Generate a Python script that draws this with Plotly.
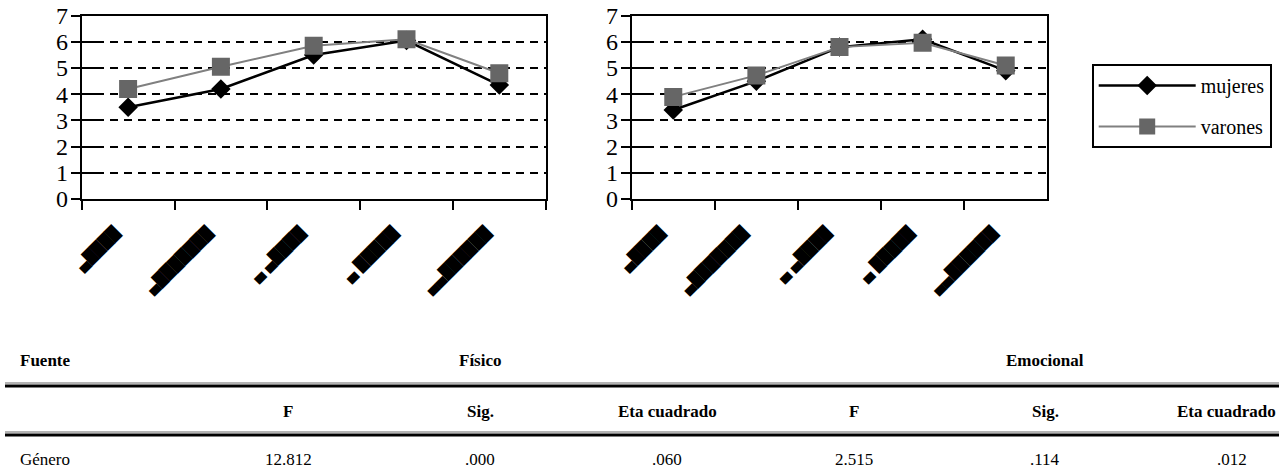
import plotly.graph_objects as go

# ---------------- data ----------------
categories = ["▄████", "▄███████", "▄ ▄████", "▄ █████", "▄▄██████"]

fisico_mujeres = [3.5, 4.2, 5.5, 6.05, 4.35]
fisico_varones = [4.2, 5.05, 5.85, 6.1, 4.8]
emocional_mujeres = [3.4, 4.5, 5.8, 6.1, 4.9]
emocional_varones = [3.9, 4.72, 5.8, 5.97, 5.1]

series_names = ["mujeres", "varones"]
y_ticks = [0, 1, 2, 3, 4, 5, 6, 7]

table_top = ["Fuente", "Físico", "Emocional"]
table_cols = ["F", "Sig.", "Eta cuadrado", "F", "Sig.", "Eta cuadrado"]
table_row_label = "Género"
table_values = ["12.812", ".000", ".060", "2.515", ".114", ".012"]

# ---------------- layout helpers ----------------
W, H = 1279, 471
def px(x):
    return x / W
def py(y):
    return 1 - y / H

SERIF = "Times New Roman, Liberation Serif, serif"
fig = go.Figure()

styles = {
    "mujeres": dict(line=dict(color="black", width=2.5),
                    marker=dict(symbol="diamond", size=15, color="black")),
    "varones": dict(line=dict(color="#808080", width=2),
                    marker=dict(symbol="square", size=18, color="#666666")),
}

# trailing spaces push the rotated labels a little left of the category centre
tick_text = [c + "\u00a0" * 4 for c in categories]

panels = [
    ("x", "y", "y3", fisico_mujeres, fisico_varones, True),
    ("x2", "y2", "y4", emocional_mujeres, emocional_varones, False),
]
for xa, ya, yov, muj, var, show in panels:
    for name, vals in zip(series_names, [muj, var]):
        fig.add_trace(go.Scatter(
            x=categories, y=vals, mode="lines+markers", name=name,
            xaxis=xa, yaxis=ya, showlegend=show, legendgroup=name,
            hoverinfo="skip", **styles[name]))
    # invisible helper trace so the overlay axis (inner tick halves) is drawn
    fig.add_trace(go.Scatter(x=[categories[0]], y=[None], xaxis=xa, yaxis=yov,
                             showlegend=False, hoverinfo="skip", mode="markers"))

xcommon = dict(type="category", categoryorder="array", categoryarray=categories,
               tickmode="array", tickvals=categories, ticktext=tick_text,
               range=[-0.5, len(categories) - 0.5], tickson="boundaries",
               ticks="outside", ticklen=9, tickwidth=2, tickcolor="black",
               showline=True, linewidth=2, linecolor="black", mirror=True,
               showgrid=False, tickangle=-45, ticklabelstandoff=5,
               automargin=False,
               tickfont=dict(family="DejaVu Sans", size=14, color="black"))
ydom = [py(199), py(15.7)]
ycommon = dict(domain=ydom, range=[0, 7], tickvals=y_ticks, ticks="outside",
               ticklen=9, tickwidth=2, tickcolor="black", showline=True,
               linewidth=2, linecolor="black", mirror=True, showgrid=True,
               gridcolor="black", gridwidth=2, griddash="8px,6px",
               zeroline=False, ticklabelstandoff=-2, automargin=False,
               ticklabeloverflow="allow",
               tickfont=dict(family=SERIF, size=24, color="black"))
yover = dict(domain=ydom, range=[0, 7], tickvals=y_ticks, ticks="inside",
             ticklen=15, tickwidth=2, tickcolor="black", showticklabels=False,
             showgrid=False, showline=False, zeroline=False, side="left",
             automargin=False)

fig.update_layout(
    width=W, height=H, margin=dict(l=0, r=0, t=0, b=0, pad=0),
    paper_bgcolor="white", plot_bgcolor="white",
    xaxis=dict(domain=[px(81.7), px(545.7)], anchor="y", **xcommon),
    xaxis2=dict(domain=[px(631.7), px(1047.3)], anchor="y2", **xcommon),
    yaxis=dict(anchor="x", **ycommon),
    yaxis2=dict(anchor="x2", **ycommon),
    yaxis3=dict(anchor="x", overlaying="y", **yover),
    yaxis4=dict(anchor="x2", overlaying="y2", **yover),
    legend=dict(x=px(1091.7), y=py(64), xanchor="left", yanchor="top",
                bordercolor="black", borderwidth=2, bgcolor="white",
                font=dict(family=SERIF, size=20, color="black"),
                itemwidth=97,
                traceorder="grouped", tracegroupgap=12),
    showlegend=True,
)

# ---------------- table (text + rules) ----------------
col_x = [288, 480, 667, 854, 1045, 1232]
row_y = [360, 411, 459]
ann = []
ann.append(dict(text="<b>%s</b>" % table_top[0], x=px(18), y=py(row_y[0]),
                xanchor="left"))
ann.append(dict(text="<b>%s</b>" % table_top[1], x=px(col_x[1]), y=py(row_y[0]),
                xanchor="center"))
ann.append(dict(text="<b>%s</b>" % table_top[2], x=px(col_x[4]), y=py(row_y[0]),
                xanchor="center"))
for i, (cx, t) in enumerate(zip(col_x, table_cols)):
    if i == len(col_x) - 1:
        ann.append(dict(text="<b>%s</b>" % t, x=px(1278), y=py(row_y[1]), xanchor="right"))
    else:
        ann.append(dict(text="<b>%s</b>" % t, x=px(cx), y=py(row_y[1]), xanchor="center"))
ann.append(dict(text=table_row_label, x=px(18), y=py(row_y[2]), xanchor="left"))
for cx, t in zip(col_x, table_values):
    ann.append(dict(text=t, x=px(cx), y=py(row_y[2]), xanchor="center"))
for a in ann:
    a.update(xref="paper", yref="paper", yanchor="middle", showarrow=False,
             font=dict(family=SERIF, size=17, color="black"))
fig.update_layout(annotations=ann)

shapes = []
for yline in [386, 435]:
    shapes.append(dict(type="line", xref="paper", yref="paper", x0=px(5), x1=1,
                       y0=py(yline - 3), y1=py(yline - 3),
                       line=dict(color="#9a9a9a", width=1.5)))
    shapes.append(dict(type="line", xref="paper", yref="paper", x0=px(5), x1=1,
                       y0=py(yline), y1=py(yline),
                       line=dict(color="black", width=3)))
fig.update_layout(shapes=shapes)

fig.write_html("out.html", config={"displayModeBar": False},
               post_script="document.body.style.margin='0';"
                           "document.body.style.overflow='hidden';")
